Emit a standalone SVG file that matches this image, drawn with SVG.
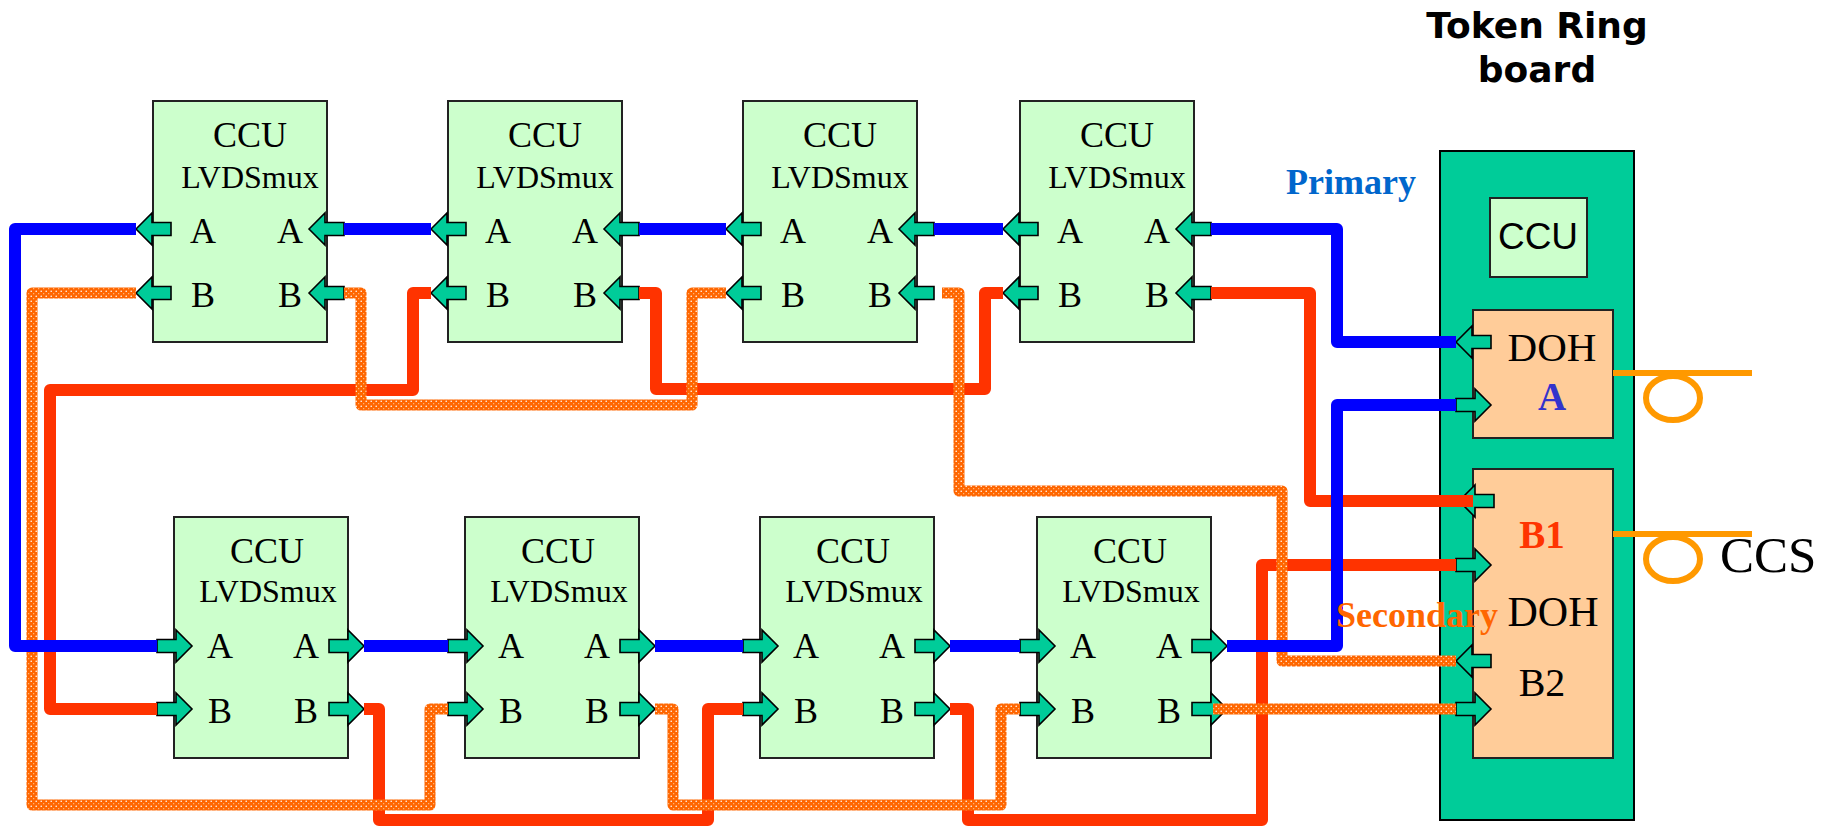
<svg xmlns="http://www.w3.org/2000/svg" xmlns:xlink="http://www.w3.org/1999/xlink" width="1833" height="827" viewBox="0 0 1833 827">
<style>
.box{fill:#CCFFCC;stroke:#222;stroke-width:2}
.doh{fill:#FFCC99;stroke:#222;stroke-width:2}
.arr{fill:#00CC99;stroke:#000;stroke-width:1.6}
.t{font-family:"Liberation Serif","Times New Roman",serif;fill:#000;text-anchor:middle}
.c{font-size:36px}
.m{font-size:32px}
.p{font-size:36px}
.line{fill:none;stroke-linejoin:round;stroke-linecap:butt}
.blue{stroke:#0000FF;stroke-width:12}
.red{stroke:#FF3300;stroke-width:12}
.org{stroke:url(#dots);stroke-width:11}
.fiber{fill:none;stroke:#FF9900;stroke-width:6}
</style>
<defs>
<pattern id="dots" patternUnits="userSpaceOnUse" width="5" height="5">
<rect width="5" height="5" fill="#FF6600"/>
<circle cx="1.2" cy="1.2" r="0.8" fill="#FFFFFF"/>
<circle cx="3.7" cy="3.7" r="0.6" fill="#FFD0A0"/>
</pattern>
<path id="aL" d="M0,0 L16,-16 L16,-6.5 L35,-6.5 L35,6.5 L16,6.5 L16,16 Z"/>
<path id="aR" d="M0,-6.5 L19,-6.5 L19,-16 L35,0 L19,16 L19,6.5 L0,6.5 Z"/>
</defs>
<rect width="1833" height="827" fill="#FFFFFF"/>

<!-- top row CCUs -->
<g id="ccu-t1">
<rect class="box" x="153" y="101" width="174" height="241"/>
<text class="t c" x="250" y="147">CCU</text>
<text class="t m" x="250" y="188">LVDSmux</text>
<text class="t p" x="203" y="243">A</text><text class="t p" x="290" y="243">A</text>
<text class="t p" x="203" y="307">B</text><text class="t p" x="290" y="307">B</text>
<use xlink:href="#aL" class="arr" x="136" y="229"/><use xlink:href="#aL" class="arr" x="136" y="293"/>
<use xlink:href="#aL" class="arr" x="309" y="229"/><use xlink:href="#aL" class="arr" x="309" y="293"/>
</g>
<g id="ccu-t2">
<rect class="box" x="448" y="101" width="174" height="241"/>
<text class="t c" x="545" y="147">CCU</text>
<text class="t m" x="545" y="188">LVDSmux</text>
<text class="t p" x="498" y="243">A</text><text class="t p" x="585" y="243">A</text>
<text class="t p" x="498" y="307">B</text><text class="t p" x="585" y="307">B</text>
<use xlink:href="#aL" class="arr" x="431" y="229"/><use xlink:href="#aL" class="arr" x="431" y="293"/>
<use xlink:href="#aL" class="arr" x="604" y="229"/><use xlink:href="#aL" class="arr" x="604" y="293"/>
</g>
<g id="ccu-t3">
<rect class="box" x="743" y="101" width="174" height="241"/>
<text class="t c" x="840" y="147">CCU</text>
<text class="t m" x="840" y="188">LVDSmux</text>
<text class="t p" x="793" y="243">A</text><text class="t p" x="880" y="243">A</text>
<text class="t p" x="793" y="307">B</text><text class="t p" x="880" y="307">B</text>
<use xlink:href="#aL" class="arr" x="726" y="229"/><use xlink:href="#aL" class="arr" x="726" y="293"/>
<use xlink:href="#aL" class="arr" x="899" y="229"/><use xlink:href="#aL" class="arr" x="899" y="293"/>
</g>
<g id="ccu-t4">
<rect class="box" x="1020" y="101" width="174" height="241"/>
<text class="t c" x="1117" y="147">CCU</text>
<text class="t m" x="1117" y="188">LVDSmux</text>
<text class="t p" x="1070" y="243">A</text><text class="t p" x="1157" y="243">A</text>
<text class="t p" x="1070" y="307">B</text><text class="t p" x="1157" y="307">B</text>
<use xlink:href="#aL" class="arr" x="1003" y="229"/><use xlink:href="#aL" class="arr" x="1003" y="293"/>
<use xlink:href="#aL" class="arr" x="1176" y="229"/><use xlink:href="#aL" class="arr" x="1176" y="293"/>
</g>

<!-- bottom row CCUs -->
<g id="ccu-b1">
<rect class="box" x="174" y="517" width="174" height="241"/>
<text class="t c" x="267" y="563">CCU</text>
<text class="t m" x="268" y="602">LVDSmux</text>
<text class="t p" x="220" y="658">A</text><text class="t p" x="306" y="658">A</text>
<text class="t p" x="220" y="723">B</text><text class="t p" x="306" y="723">B</text>
<use xlink:href="#aR" class="arr" x="157" y="646"/><use xlink:href="#aR" class="arr" x="157" y="709"/>
<use xlink:href="#aR" class="arr" x="329" y="646"/><use xlink:href="#aR" class="arr" x="329" y="709"/>
</g>
<g id="ccu-b2">
<rect class="box" x="465" y="517" width="174" height="241"/>
<text class="t c" x="558" y="563">CCU</text>
<text class="t m" x="559" y="602">LVDSmux</text>
<text class="t p" x="511" y="658">A</text><text class="t p" x="597" y="658">A</text>
<text class="t p" x="511" y="723">B</text><text class="t p" x="597" y="723">B</text>
<use xlink:href="#aR" class="arr" x="448" y="646"/><use xlink:href="#aR" class="arr" x="448" y="709"/>
<use xlink:href="#aR" class="arr" x="620" y="646"/><use xlink:href="#aR" class="arr" x="620" y="709"/>
</g>
<g id="ccu-b3">
<rect class="box" x="760" y="517" width="174" height="241"/>
<text class="t c" x="853" y="563">CCU</text>
<text class="t m" x="854" y="602">LVDSmux</text>
<text class="t p" x="806" y="658">A</text><text class="t p" x="892" y="658">A</text>
<text class="t p" x="806" y="723">B</text><text class="t p" x="892" y="723">B</text>
<use xlink:href="#aR" class="arr" x="743" y="646"/><use xlink:href="#aR" class="arr" x="743" y="709"/>
<use xlink:href="#aR" class="arr" x="915" y="646"/><use xlink:href="#aR" class="arr" x="915" y="709"/>
</g>
<g id="ccu-b4">
<rect class="box" x="1037" y="517" width="174" height="241"/>
<text class="t c" x="1130" y="563">CCU</text>
<text class="t m" x="1131" y="602">LVDSmux</text>
<text class="t p" x="1083" y="658">A</text><text class="t p" x="1169" y="658">A</text>
<text class="t p" x="1083" y="723">B</text><text class="t p" x="1169" y="723">B</text>
<use xlink:href="#aR" class="arr" x="1020" y="646"/><use xlink:href="#aR" class="arr" x="1020" y="709"/>
<use xlink:href="#aR" class="arr" x="1192" y="646"/><use xlink:href="#aR" class="arr" x="1192" y="709"/>
</g>

<!-- Token Ring board -->
<g id="board">
<text x="1537" y="38" font-family="'DejaVu Sans',Verdana,sans-serif" font-weight="bold" font-size="36" text-anchor="middle">Token Ring</text>
<text x="1537" y="82" font-family="'DejaVu Sans',Verdana,sans-serif" font-weight="bold" font-size="36" text-anchor="middle">board</text>
<rect x="1440" y="151" width="194" height="669" fill="#00CC99" stroke="#000" stroke-width="2"/>
<g id="board-ccu">
<rect class="box" x="1490" y="198" width="97" height="79"/>
<text x="1538" y="249" font-family="'Liberation Sans',Arial,sans-serif" font-size="37" text-anchor="middle">CCU</text>
</g>
<g id="doh-a">
<rect class="doh" x="1473" y="310" width="140" height="128"/>
<text class="t" x="1552" y="361" font-size="41">DOH</text>
<text class="t" x="1552" y="410" font-size="39" font-weight="bold" style="fill:#3333CC">A</text>
<use xlink:href="#aL" class="arr" x="1456" y="342"/>
<use xlink:href="#aR" class="arr" x="1456" y="405"/>
</g>
<g id="doh-b">
<rect class="doh" x="1473" y="469" width="140" height="289"/>
<text class="t" x="1542" y="548" font-size="39" font-weight="bold" style="fill:#FF3300">B1</text>
<text class="t" x="1553" y="626" font-size="42">DOH</text>
<text class="t" x="1542" y="696" font-size="40">B2</text>
<use xlink:href="#aL" class="arr" x="1459" y="501"/>
<use xlink:href="#aR" class="arr" x="1456" y="565"/>
<use xlink:href="#aL" class="arr" x="1456" y="661"/>
<use xlink:href="#aR" class="arr" x="1456" y="709"/>
</g>
</g>

<!-- CCS fibers -->
<g id="ccs">
<line class="fiber" x1="1613" y1="373" x2="1752" y2="373"/>
<ellipse class="fiber" cx="1673" cy="398" rx="27" ry="22"/>
<line class="fiber" x1="1613" y1="534" x2="1752" y2="534"/>
<ellipse class="fiber" cx="1673" cy="559" rx="27" ry="22"/>
<text class="t" x="1720" y="572" font-size="51" style="text-anchor:start">CCS</text>
</g>

<!-- connectors -->
<g id="connectors">
<path class="line red" d="M1473,501 H1310 V293 H1211"/>
<path class="line red" d="M431,293 H413 V390 H50 V709 H157"/>
<path class="line red" d="M639,293 H656 V389 H985 V293 H1003"/>
<path class="line red" d="M364,709 H379 V820 H708 V709 H743"/>
<path class="line red" d="M950,709 H968 V820 H1262 V565 H1456"/>
<path class="line org" d="M344,293 H361 V405 H692 V293 H726"/>
<path class="line org" d="M136,293 H32 V805 H430 V709 H448"/>
<path class="line org" d="M942,293 H959 V491 H1282 V661 H1456"/>
<path class="line org" d="M655,709 H673 V805 H1001 V709 H1020"/>
<path class="line org" d="M1213,709 H1456"/>
<path class="line blue" d="M1456,342 H1337 V229 H1211"/>
<path class="line blue" d="M934,229 H1003 M639,229 H726 M344,229 H431"/>
<path class="line blue" d="M136,229 H15 V646 H157"/>
<path class="line blue" d="M364,646 H448 M655,646 H743 M950,646 H1020"/>
<path class="line blue" d="M1227,646 H1337 V405 H1456"/>
</g>

<!-- labels -->
<g id="labels">
<text x="1286" y="194" font-family="'Liberation Serif','Times New Roman',serif" font-weight="bold" font-size="36" fill="#0066CC">Primary</text>
<text x="1336" y="627" font-family="'Liberation Serif','Times New Roman',serif" font-weight="bold" font-size="36" fill="#FF6600">Secondary</text>
</g>
</svg>
